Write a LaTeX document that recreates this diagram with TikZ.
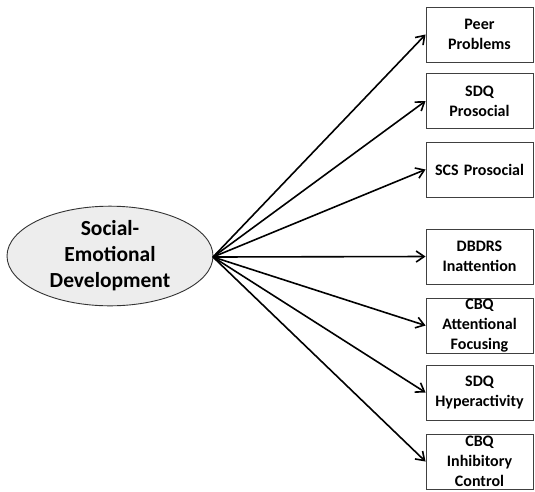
\documentclass[tikz,border=0pt]{standalone}
\usepackage{fontspec}
\setmainfont{Carlito}
\usetikzlibrary{arrows.meta,shapes.geometric}

\begin{document}
\begin{tikzpicture}[x=1pt,y=-1pt,>={Straight Barb[length=8pt,width=11pt]},
  factor/.style={ellipse,draw=black!80,line width=0.9pt,fill=black!7,
    minimum width=206pt,minimum height=95pt,inner sep=0pt,align=center,
    font=\fontsize{21.5}{26}\selectfont\bfseries},
  measure/.style={rectangle,draw=black!75,line width=0.9pt,
    minimum width=107pt,minimum height=55pt,inner sep=0pt,
    text width=104pt,align=center,font=\fontsize{16}{20}\selectfont\bfseries},
  path/.style={->,line width=1.6pt}]
  \useasboundingbox (0,0) rectangle (535,491);
  % latent factor
  \node[factor] (sed) at (110,256) {Social-\\Emotional\\Development};
  \coordinate (src) at (213,257);

  % indicators
  \node[measure] (peer) at (479.5,34.5) {Peer\\Problems};
  \node[measure] (sdqpro) at (479.5,101) {SDQ\\Prosocial};
  \node[measure] (scspro) at (479.5,169.5) {SCS Prosocial};
  \node[measure] (dbdrs) at (479.5,256.5) {DBDRS\\Inattention};
  \node[measure] (cbqaf) at (479.5,325.5) {CBQ\\Attentional\\Focusing};
  \node[measure] (sdqhyp) at (479.5,392.5) {SDQ\\Hyperactivity};
  \node[measure] (cbqic) at (479.5,461.5) {CBQ\\Inhibitory\\Control};

  % loadings
  \foreach \m in {peer,sdqpro,scspro,dbdrs,cbqaf,sdqhyp,cbqic}
    \draw[path] (src) -- (\m.west);
\end{tikzpicture}
\end{document}
